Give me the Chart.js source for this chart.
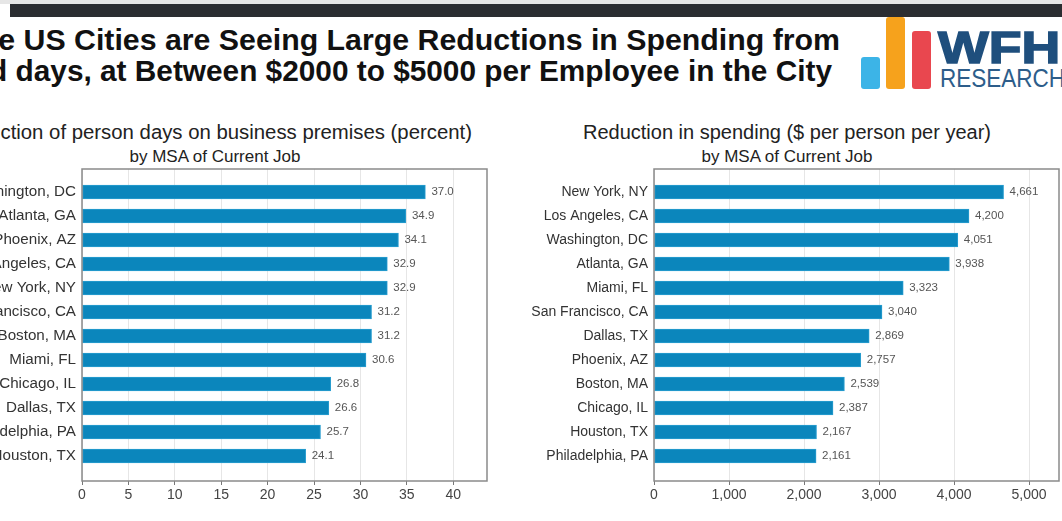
<!DOCTYPE html>
<html>
<head>
<meta charset="utf-8">
<script src="https://cdn.jsdelivr.net/npm/chart.js@4.4.1/dist/chart.umd.min.js"></script>
<style>
  html, body { margin: 0; padding: 0; background: #fff; }
  body { width: 1062px; height: 521px; position: relative; overflow: hidden; font-family: "Liberation Sans", Arial, sans-serif; }
  .abs { position: absolute; white-space: nowrap; }
  .topline { left: 0; top: 0; width: 1062px; height: 4px; background: #e6e6e6; }
  .topbar { left: 10px; top: 4px; width: 1052px; height: 13px; background: #2b2d31; }
  .headline { font-weight: bold; font-size: 30.3px; line-height: 30px; color: #111; text-align: right; }
  .ctitle { font-size: 20px; line-height: 20px; color: #222; text-align: center; width: 800px; }
  .csub { font-size: 17px; line-height: 17px; color: #222; text-align: center; width: 800px; }
  .lbar { border-radius: 3px; }
  canvas { position: absolute; }
</style>
</head>
<body>
<div class="abs topline"></div>
<div class="abs topbar"></div>
<div class="abs headline" style="right:222px; top:25px;">Large US Cities are Seeing Large Reductions in Spending from</div>
<div class="abs headline" style="right:230px; top:56px; font-size:29.8px;">Hybrid days, at Between $2000 to $5000 per Employee in the City</div>

<div class="abs lbar" style="left:861px; top:57px; width:19px; height:32px; background:#3cb4e7;"></div>
<div class="abs lbar" style="left:886px; top:17px; width:19px; height:72px; background:#f6a21c;"></div>
<div class="abs lbar" style="left:912px; top:31px; width:19px; height:58px; background:#e9474f;"></div>
<div class="abs" style="left:938px; top:23px; font-size:44px; line-height:50px; font-weight:bold; color:#1f4f7d; transform:scaleX(1.22); transform-origin:left center; -webkit-text-stroke:1.5px #1f4f7d;">WFH</div>
<div class="abs" style="left:940px; top:66px; font-size:25px; line-height:25px; color:#2d5d8a; transform:scaleX(0.9); transform-origin:left center;">RESEARCH</div>

<div class="abs" style="right:590px; top:122px; font-size:20.35px; line-height:20px; color:#222;">Reduction of person days on business premises (percent)</div>
<div class="abs csub" style="left:-185px; top:148px;">by MSA of Current Job</div>
<div class="abs ctitle" style="left:387px; top:122px;">Reduction in spending ($ per person per year)</div>
<div class="abs csub" style="left:387px; top:148px;">by MSA of Current Job</div>

<canvas id="leftChart" width="560" height="352" style="left:-66px; top:160px;"></canvas>
<canvas id="rightChart" width="562" height="352" style="left:500px; top:160px;"></canvas>

<script>
// left panel: reduction of person days on business premises (percent)
const daysCities = ["Washington, DC", "Atlanta, GA", "Phoenix, AZ", "Los Angeles, CA", "New York, NY", "San Francisco, CA",
  "Boston, MA", "Miami, FL", "Chicago, IL", "Dallas, TX", "Philadelphia, PA", "Houston, TX"];
const daysValues = [37.0, 34.9, 34.1, 32.9, 32.9, 31.2, 31.2, 30.6, 26.8, 26.6, 25.7, 24.1];
const daysTicks = [0, 5, 10, 15, 20, 25, 30, 35, 40];

// right panel: reduction in spending ($ per person per year)
const spendCities = ["New York, NY", "Los Angeles, CA", "Washington, DC", "Atlanta, GA", "Miami, FL", "San Francisco, CA",
  "Dallas, TX", "Phoenix, AZ", "Boston, MA", "Chicago, IL", "Houston, TX", "Philadelphia, PA"];
const spendValues = [4661, 4200, 4051, 3938, 3323, 3040, 2869, 2757, 2539, 2387, 2167, 2161];
const spendTicks = [0, 1000, 2000, 3000, 4000, 5000];

const barColor = "#0b86bc";
const fontFamily = "'Liberation Sans', Arial, sans-serif";

// frame around the plot area
const framePlugin = {
  id: "frame",
  afterDraw(chart) {
    const a = chart.chartArea, ctx = chart.ctx;
    ctx.save();
    ctx.strokeStyle = "#8a8a8a";
    ctx.lineWidth = 1.5;
    ctx.strokeRect(a.left, a.top, a.right - a.left, a.bottom - a.top);
    ctx.restore();
  }
};

// numbers next to the bar ends
const valueLabels = {
  id: "valueLabels",
  afterDatasetsDraw(chart, args, opts) {
    const ctx = chart.ctx;
    const meta = chart.getDatasetMeta(0);
    const values = chart.data.datasets[0].data;
    ctx.save();
    ctx.font = "11.5px " + fontFamily;
    ctx.fillStyle = "#555";
    ctx.textBaseline = "middle";
    ctx.textAlign = "left";
    meta.data.forEach((bar, i) => {
      ctx.fillText(opts.format(values[i].x), bar.x + 6, bar.y);
    });
    ctx.restore();
  }
};

function noPad(s) {
  s.paddingTop = 0; s.paddingBottom = 0; s.paddingLeft = 0; s.paddingRight = 0;
}

function makeChart(id, cities, values, ticks, xMax, yAxisWidth, padRight, labelSize, fmtTick, fmtValue) {
  const ctx = document.getElementById(id).getContext("2d");
  return new Chart(ctx, {
    type: "bar",
    data: {
      datasets: [{
        data: values.map((v, i) => ({ x: v, y: i })),
        backgroundColor: barColor,
        borderColor: "#2a9ed0",
        borderWidth: 1,
        borderSkipped: false,
        barThickness: 14
      }]
    },
    options: {
      responsive: false,
      animation: false,
      indexAxis: "y",
      layout: { padding: { top: 9, right: padRight, left: 0, bottom: 0 } },
      plugins: {
        legend: { display: false },
        tooltip: { enabled: false },
        valueLabels: { format: fmtValue }
      },
      scales: {
        x: {
          type: "linear",
          min: 0,
          max: xMax,
          offset: false,
          afterBuildTicks: s => { s.ticks = ticks.map(v => ({ value: v })); },
          afterFit: s => { s.height = 31; noPad(s); },
          grid: { color: "#e6e6e6", tickColor: "#777", tickLength: 4, lineWidth: 1 },
          border: { display: false },
          ticks: { color: "#444", font: { size: 14, family: fontFamily }, padding: 2, callback: fmtTick }
        },
        y: {
          type: "linear",
          reverse: true,
          offset: false,
          min: -23 / 24,
          max: -23 / 24 + 13,
          afterBuildTicks: s => { s.ticks = cities.map((_, i) => ({ value: i })); },
          afterFit: s => { s.width = yAxisWidth; noPad(s); },
          grid: { display: false, drawTicks: false, offset: false },
          border: { display: false },
          ticks: { color: "#333", font: { size: labelSize, family: fontFamily }, padding: 6, callback: v => cities[v] }
        }
      }
    },
    plugins: [framePlugin, valueLabels]
  });
}

makeChart("leftChart", daysCities, daysValues, daysTicks, 43.64, 148, 7, 15.2,
  v => String(v), v => v.toFixed(1));
makeChart("rightChart", spendCities, spendValues, spendTicks, 5400, 154, 3, 14,
  v => v.toLocaleString("en-US"), v => v.toLocaleString("en-US"));
</script>
</body>
</html>
